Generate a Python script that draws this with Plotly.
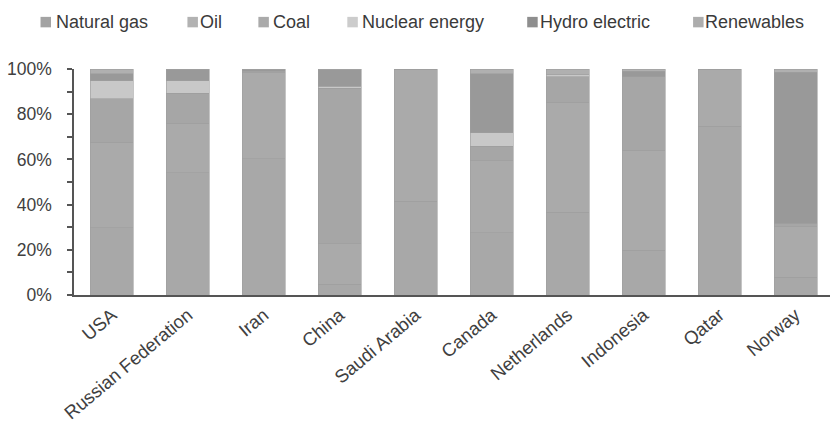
import plotly.graph_objects as go

# Share of primary energy consumption by fuel, top gas-producing countries (%)
countries = ["USA", "Russian Federation", "Iran", "China", "Saudi Arabia",
             "Canada", "Netherlands", "Indonesia", "Qatar", "Norway"]

natural_gas = [29.8, 54.0, 60.2, 4.8, 41.5, 27.6, 36.7, 19.8, 74.6, 7.8]
oil = [37.7, 21.9, 38.1, 17.8, 58.5, 31.8, 48.5, 44.2, 25.4, 22.4]
coal = [19.3, 13.4, 0.4, 68.9, 0.0, 6.4, 11.3, 32.6, 0.0, 1.5]
nuclear_energy = [8.0, 5.4, 0.2, 0.9, 0.0, 6.1, 0.9, 0.0, 0.0, 0.0]
hydro_electric = [3.0, 5.3, 1.1, 7.2, 0.0, 25.9, 0.0, 2.3, 0.0, 66.8]
renewables = [2.2, 0.0, 0.0, 0.4, 0.0, 2.2, 2.6, 1.1, 0.0, 1.5]

y_tick_values = [0, 20, 40, 60, 80, 100]
y_tick_labels = ["0%", "20%", "40%", "60%", "80%", "100%"]

series_names = ["Natural gas", "Oil", "Coal", "Nuclear energy",
                "Hydro electric", "Renewables"]
series_values = [natural_gas, oil, coal, nuclear_energy, hydro_electric, renewables]
series_colors = ["#a8a8a8", "#aaaaaa", "#a6a6a6", "#c8c8c8", "#999999", "#b0b0b0"]
legend_colors = ["#a3a3a3", "#b2b2b2", "#aaaaaa", "#cccccc", "#8e8e8e", "#adadad"]

FONT = "Liberation Sans, Arial, sans-serif"
W, H = 830, 426
L, R, T, B = 73.5, 0, 68.5, 131
PW, PH = W - L - R, H - T - B

fig = go.Figure()
for name, vals, col in zip(series_names, series_values, series_colors):
    fig.add_trace(go.Bar(
        x=countries, y=vals, name=name,
        marker=dict(color=col, line=dict(width=0.6, color="#9e9e9e")),
        showlegend=False,
    ))

# Legend row drawn above the plot: small square swatch followed by the label
legend_swatch_px = [40, 187, 258, 347, 527, 693]
legend_text_px = [54, 199, 272, 361, 539, 704]
legend_y_px = 21.5
swatch = 10.5


def px_x(p):
    return (p - L) / PW


def px_y(p):
    return (H - B - p) / PH


shapes = []
annotations = []
for name, col, sx, tx in zip(series_names, legend_colors, legend_swatch_px, legend_text_px):
    shapes.append(dict(
        type="rect", xref="paper", yref="paper",
        x0=px_x(sx), x1=px_x(sx + swatch),
        y0=px_y(legend_y_px + swatch / 2), y1=px_y(legend_y_px - swatch / 2),
        fillcolor=col, line=dict(width=0),
    ))
    annotations.append(dict(
        xref="paper", yref="paper", x=px_x(tx), y=px_y(legend_y_px),
        xanchor="left", yanchor="middle", showarrow=False,
        text=name, font=dict(family=FONT, size=18, color="#3a3a3a"),
        borderpad=0,
    ))

fig.update_layout(
    barmode="stack",
    bargap=0.434,
    width=W, height=H,
    margin=dict(l=L, r=R, t=T, b=B, pad=0),
    paper_bgcolor="white", plot_bgcolor="white",
    font=dict(family=FONT, size=17, color="#404040"),
    shapes=shapes,
    annotations=annotations,
    showlegend=False,
    xaxis=dict(
        range=[-0.5, 9.454],
        tickangle=-40,
        showgrid=False,
        showline=True, linecolor="#555555", linewidth=2,
        ticks="",
        tickfont=dict(family=FONT, size=18.5, color="#404040"),
    ),
    yaxis=dict(
        range=[0, 100],
        tickmode="array",
        tickvals=y_tick_values,
        ticktext=y_tick_labels,
        showgrid=False, zeroline=False,
        showline=True, linecolor="#555555", linewidth=1.5,
        ticks="outside", ticklen=5, tickcolor="#555555", tickwidth=1.5,
        minor=dict(tickvals=[10, 30, 50, 70, 90], ticks="outside",
                   ticklen=5, tickcolor="#555555", tickwidth=1.5),
        ticklabelstandoff=12,
        tickfont=dict(family=FONT, size=17.5, color="#404040"),
    ),
)

fig.write_html("out.html")
